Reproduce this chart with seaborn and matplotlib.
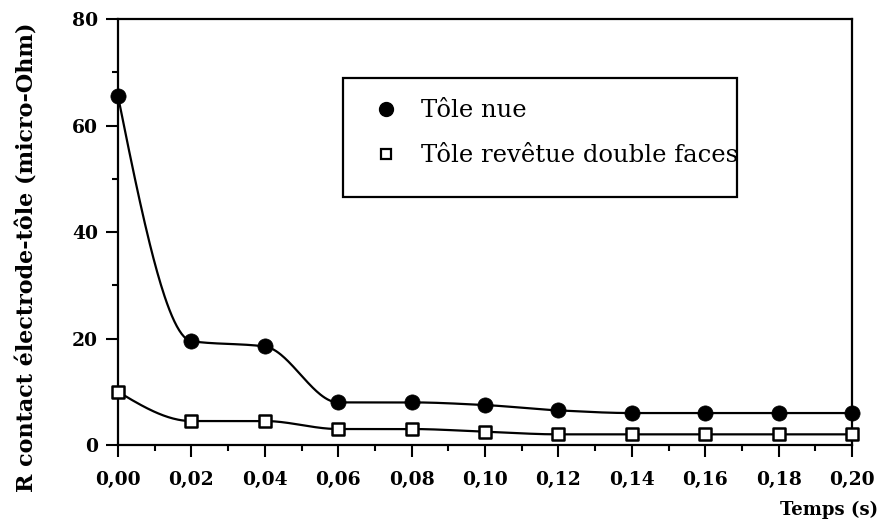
import numpy as np
import pandas as pd
import matplotlib
matplotlib.use("Agg")
import matplotlib.pyplot as plt
from matplotlib.lines import Line2D
from matplotlib.patches import Rectangle
from matplotlib.ticker import MultipleLocator, FuncFormatter
import seaborn as sns

# Contact resistance versus welding time
temps = [0.00, 0.02, 0.04, 0.06, 0.08, 0.10, 0.12, 0.14, 0.16, 0.18, 0.20]
tole_nue = [65.5, 19.5, 18.5, 8.0, 8.0, 7.5, 6.5, 6.0, 6.0, 6.0, 6.0]
tole_revetue = [10.0, 4.5, 4.5, 3.0, 3.0, 2.5, 2.0, 2.0, 2.0, 2.0, 2.0]

label_nue = "Tôle nue"
label_revetue = "Tôle revêtue double faces"
xlabel = "Temps (s)"
ylabel = "R contact électrode-tôle (micro-Ohm)"


def pchip(x, y, xs):
    """Monotone cubic (Fritsch-Carlson) curve through the measured points."""
    x = np.asarray(x, float)
    y = np.asarray(y, float)
    h = np.diff(x)
    d = np.diff(y) / h
    n = len(x)
    m = np.zeros(n)
    for k in range(1, n - 1):
        if d[k - 1] * d[k] > 0:
            w1 = 2 * h[k] + h[k - 1]
            w2 = h[k] + 2 * h[k - 1]
            m[k] = (w1 + w2) / (w1 / d[k - 1] + w2 / d[k])

    def end_slope(h0, h1, d0, d1):
        s = ((2 * h0 + h1) * d0 - h0 * d1) / (h0 + h1)
        if np.sign(s) != np.sign(d0):
            return 0.0
        if np.sign(d0) != np.sign(d1) and abs(s) > abs(3 * d0):
            return 3 * d0
        return s

    m[0] = end_slope(h[0], h[1], d[0], d[1])
    m[-1] = end_slope(h[-1], h[-2], d[-1], d[-2])
    idx = np.clip(np.searchsorted(x, xs) - 1, 0, n - 2)
    t = (xs - x[idx]) / h[idx]
    h00 = 2 * t**3 - 3 * t**2 + 1
    h10 = t**3 - 2 * t**2 + t
    h01 = -2 * t**3 + 3 * t**2
    h11 = t**3 - t**2
    return h00 * y[idx] + h10 * h[idx] * m[idx] + h01 * y[idx + 1] + h11 * h[idx] * m[idx + 1]


sns.set_theme(style="white")
plt.rcParams["font.family"] = ["DejaVu Serif"]
plt.rcParams["text.color"] = "black"
plt.rcParams["axes.labelcolor"] = "black"

fig = plt.figure(figsize=(8.78, 5.28), dpi=100)
ax = fig.add_axes([0.1344, 0.1572, 0.836, 0.8068])

points = pd.DataFrame({
    "temps": temps * 2,
    "R": tole_nue + tole_revetue,
    "serie": [label_nue] * len(temps) + [label_revetue] * len(temps),
})

xs = np.linspace(temps[0], temps[-1], 600)
curves = pd.DataFrame({
    "temps": np.concatenate([xs, xs]),
    "R": np.concatenate([pchip(temps, tole_nue, xs), pchip(temps, tole_revetue, xs)]),
    "serie": [label_nue] * len(xs) + [label_revetue] * len(xs),
})

sns.lineplot(data=curves, x="temps", y="R", hue="serie",
             palette={label_nue: "black", label_revetue: "black"},
             linewidth=1.6, legend=False, ax=ax, clip_on=False, zorder=2)

nue_pts = points[points["serie"] == label_nue]
rev_pts = points[points["serie"] == label_revetue]
sns.scatterplot(data=nue_pts, x="temps", y="R", marker="o", s=120,
                color="black", edgecolor="black", linewidth=0.5,
                legend=False, ax=ax, clip_on=False, zorder=4)
sns.scatterplot(data=rev_pts, x="temps", y="R", marker="s", s=75,
                facecolor="white", edgecolor="black", linewidth=1.8,
                legend=False, ax=ax, clip_on=False, zorder=4)

ax.set_xlim(0, 0.20)
ax.set_ylim(0, 80)
ax.xaxis.set_major_locator(MultipleLocator(0.02))
ax.xaxis.set_minor_locator(MultipleLocator(0.01))
ax.yaxis.set_major_locator(MultipleLocator(20))
ax.yaxis.set_minor_locator(MultipleLocator(10))
ax.xaxis.set_major_formatter(FuncFormatter(lambda v, p: f"{v:.2f}".replace(".", ",")))
ax.yaxis.set_major_formatter(FuncFormatter(lambda v, p: f"{v:.0f}"))

ax.tick_params(axis="both", which="major", direction="out", length=8.5, width=1.5,
               color="black", labelsize=13.5, labelcolor="black")
ax.tick_params(axis="x", which="major", pad=10)
ax.tick_params(axis="y", which="major", pad=6)
ax.tick_params(axis="both", which="minor", direction="out", length=4, width=1.5, color="black")
ax.tick_params(bottom=True, left=True, which="both")
for lab in ax.get_xticklabels() + ax.get_yticklabels():
    lab.set_fontweight("bold")

for side in ["top", "bottom", "left", "right"]:
    ax.spines[side].set_visible(True)
    ax.spines[side].set_color("black")
    ax.spines[side].set_linewidth(1.6)

ax.set_xlabel(xlabel, fontsize=13, fontweight="bold", ha="right", color="black")
ax.xaxis.set_label_coords(1.035, -0.13)
ax.set_ylabel(ylabel, fontsize=16, fontweight="bold", color="black")
ax.yaxis.set_label_coords(-0.108, 0.44)

# Legend: boxed, inside the plot area
ax.add_patch(Rectangle((0.3065, 0.582), 0.5365, 0.2795, transform=ax.transAxes,
                       facecolor="white", edgecolor="black", linewidth=1.6, zorder=5))
handles = [
    Line2D([], [], linestyle="none", marker="o", markersize=10,
           markerfacecolor="black", markeredgecolor="black"),
    Line2D([], [], linestyle="none", marker="s", markersize=7,
           markerfacecolor="white", markeredgecolor="black", markeredgewidth=1.6),
]
leg = ax.legend(handles, [label_nue, label_revetue], loc="upper left",
                bbox_to_anchor=(0.322, 0.857), frameon=False, fontsize=17.5,
                handlelength=1.0, handletextpad=0.95, labelspacing=0.9,
                borderpad=0.3, labelcolor="black")
leg.set_zorder(6)

fig.savefig("out.png", dpi=100)
